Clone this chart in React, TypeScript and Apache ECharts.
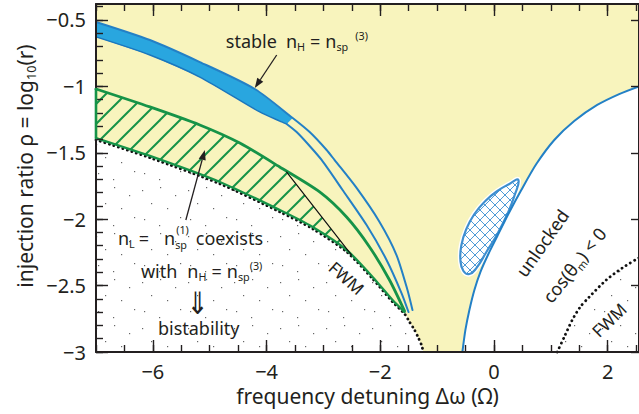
import React, { useEffect, useRef } from 'react';
import * as echarts from 'echarts';

const FONT = '"Noto Sans", "DejaVu Sans", sans-serif';
const INK = '#231f20';
const YELLOW = '#f8f4bd';
const GREEN = '#169348';
const BLUE_FILL = '#29a6df';
const BLUE_EDGE = '#1b76bd';
const BLUE_LINE = '#2380c6';

const X_MIN = -7;
const X_MAX = 2.55;
const Y_MIN = -3;
const Y_MAX = -0.38;

// ---- tick values ----
const xMajorTicks = [-6, -4, -2, 0, 2];
const xMinorTicks = [-7, -6.5, -6, -5.5, -5, -4.5, -4, -3.5, -3, -2.5, -2, -1.5, -1, -0.5, 0, 0.5, 1, 1.5, 2, 2.5];
const yMajorTicks = [-3, -2.5, -2, -1.5, -1, -0.5];
const yMinorTicks = [-3, -2.9, -2.8, -2.7, -2.6, -2.5, -2.4, -2.3, -2.2, -2.1, -2, -1.9, -1.8, -1.7, -1.6, -1.5, -1.4, -1.3, -1.2, -1.1, -1, -0.9, -0.8, -0.7, -0.6, -0.5, -0.4];

// ---- boundary curves (Δω, ρ) ----
const bandUpper = [[-7, -0.515], [-6.052, -0.651], [-5.174, -0.817], [-4.208, -1.02], [-3.541, -1.238], [-3.242, -1.344], [-2.944, -1.479], [-2.803, -1.555], [-2.417, -1.765], [-2.013, -2.021], [-1.715, -2.27], [-1.522, -2.533], [-1.434, -2.684]];
const bandLower = [[-7, -0.628], [-6.052, -0.764], [-5.174, -0.93], [-4.12, -1.193], [-3.769, -1.261], [-3.646, -1.283]];
const lowerBranch = [[-3.646, -1.283], [-3.471, -1.344], [-3.242, -1.449], [-3.032, -1.554], [-2.663, -1.78], [-2.241, -2.044], [-1.89, -2.307], [-1.627, -2.556], [-1.504, -2.699]];
const greenUpper = [[-7, -1.02], [-6.052, -1.155], [-5.174, -1.291], [-4.471, -1.427], [-3.769, -1.607], [-3.067, -1.795], [-2.593, -1.984], [-2.189, -2.209], [-1.838, -2.458], [-1.574, -2.691]];
const greenLower = [[-7, -1.389], [-6.052, -1.524], [-4.823, -1.72], [-3.769, -1.931], [-3.19, -2.059], [-2.593, -2.232], [-2.136, -2.435], [-1.785, -2.609], [-1.574, -2.699]];
const fwmCusp = [[-1.574, -2.699], [-1.486, -2.774], [-1.398, -2.834], [-1.328, -2.895], [-1.276, -2.947], [-1.241, -3.0]];
const fwmLine = [[-3.646, -1.645], [-2.505, -2.27]];
const unlockedBoundary = [[-0.556, -3.0], [-0.503, -2.834], [-0.433, -2.684], [-0.345, -2.533], [-0.24, -2.398], [-0.099, -2.262], [0.059, -2.127], [0.252, -1.961], [0.48, -1.78], [0.744, -1.585], [1.06, -1.404], [1.411, -1.261], [1.815, -1.14], [2.201, -1.058], [2.55, -1.0]];
const fwmRight = [[1.112, -3.0], [1.235, -2.887], [1.376, -2.759], [1.516, -2.661], [1.674, -2.586], [1.973, -2.458], [2.254, -2.368], [2.55, -2.29]];
const island = [[0.428, -1.705], [0.27, -1.735], [0.059, -1.788], [-0.152, -1.863], [-0.345, -1.961], [-0.486, -2.074], [-0.573, -2.195], [-0.591, -2.307], [-0.538, -2.39], [-0.433, -2.413], [-0.31, -2.368], [-0.134, -2.247], [0.059, -2.112], [0.235, -1.961], [0.357, -1.826]];
const stableArrow = [[-3.822, -0.764], [-4.208, -1.013]];
const coexistArrow = [[-5.42, -2.006], [-5.086, -1.479]];

// ---- text helpers ----
type Seg = { t: string; k?: 'sub' | 'sup'; stack?: boolean; gap?: number; dy?: number };
let mctx: CanvasRenderingContext2D | null = null;
function textWidth(t: string, size: number, family = FONT) {
  if (!mctx) mctx = document.createElement('canvas').getContext('2d');
  mctx!.font = `${size}px ${family}`;
  return mctx!.measureText(t).width;
}
function textRun(segs: Seg[], size: number, align: 'left' | 'center', color = INK) {
  const out: any[] = [];
  let x = 0;
  let lastStart = 0;
  for (const s of segs) {
    const fs = s.k ? size * 0.6 : size;
    const w = textWidth(s.t, fs);
    const sx = s.stack ? lastStart + 1 : x + (s.gap || 0);
    const dy = s.dy != null ? s.dy : s.k === 'sub' ? size * 0.32 : s.k === 'sup' ? -size * 0.32 : 0;
    out.push({
      type: 'text', x: sx, y: dy,
      style: { text: s.t, fontSize: fs, fontFamily: FONT, fill: color, textAlign: 'left', textVerticalAlign: 'middle', align: 'left', verticalAlign: 'middle' },
    });
    if (s.stack) x = Math.max(x, sx + w);
    else { lastStart = sx; x = sx + w; }
  }
  if (align === 'center') out.forEach((o) => (o.x -= x / 2));
  return out;
}

function makeTile(size: number, draw: (c: CanvasRenderingContext2D) => void) {
  const cv = document.createElement('canvas');
  cv.width = size; cv.height = size;
  const c = cv.getContext('2d')!;
  draw(c);
  return { image: cv.toDataURL(), repeat: 'repeat', imageWidth: size, imageHeight: size };
}

function buildOption() {
  const stipple = makeTile(46, (c) => {
    c.fillStyle = '#ffffff'; c.fillRect(0, 0, 46, 46);
    c.fillStyle = '#666666';
    [[4, 6], [22, 3], [37, 11], [13, 19], [29, 24], [42, 33], [6, 35], [21, 41]].forEach(([x, y]) => c.fillRect(x, y, 1.2, 1.2));
  });
  const hatch = makeTile(20, (c) => {
    c.strokeStyle = GREEN; c.lineWidth = 2;
    [-20, 0, 20].forEach((k) => { c.beginPath(); c.moveTo(k - 2, 22); c.lineTo(k + 22, -2); c.stroke(); });
  });
  const cross = makeTile(10, (c) => {
    c.fillStyle = '#ffffff'; c.fillRect(0, 0, 10, 10);
    c.strokeStyle = '#4f9bd6'; c.lineWidth = 1;
    [-10, 0, 10].forEach((k) => {
      c.beginPath(); c.moveTo(k - 2, 12); c.lineTo(k + 12, -2); c.stroke();
      c.beginPath(); c.moveTo(k - 2, -2); c.lineTo(k + 12, 12); c.stroke();
    });
  });

  const P = (api: any, arr: number[][]) => arr.map((p) => api.coord(p));
  const line = (api: any, arr: number[][], stroke: string, lineWidth: number, extra: any = {}) => ({
    type: 'polyline', shape: { points: P(api, arr), smooth: 0.25 },
    style: { stroke, lineWidth, fill: 'none', lineCap: 'round', lineJoin: 'round', ...extra },
  });
  const arrow = (api: any, from: number[], to: number[]) => {
    const a = api.coord(from); const b = api.coord(to);
    const dx = b[0] - a[0]; const dy = b[1] - a[1]; const L = Math.hypot(dx, dy);
    const ux = dx / L; const uy = dy / L; const nx = -uy; const ny = ux;
    const hl = 10; const hw = 3.6;
    const bx = b[0] - ux * hl; const by = b[1] - uy * hl;
    return [
      { type: 'line', shape: { x1: a[0], y1: a[1], x2: bx, y2: by }, style: { stroke: INK, lineWidth: 1.3 } },
      { type: 'polygon', shape: { points: [[b[0], b[1]], [bx + nx * hw, by + ny * hw], [bx - nx * hw, by - ny * hw]] }, style: { fill: INK } },
    ];
  };
  const layer = (name: string, z: number, build: (api: any) => any[]) => ({
    type: 'custom', name, coordinateSystem: 'cartesian2d', xAxisIndex: 0, yAxisIndex: 0,
    data: [[X_MIN, Y_MIN]], silent: true, clip: false, z,
    renderItem: (_p: any, api: any) => ({ type: 'group', children: build(api) }),
  });
  const at = (api: any, p: number[], rotation: number, children: any[]) => {
    const c = api.coord(p);
    return { type: 'group', x: c[0], y: c[1], rotation, children };
  };

  const hatchRegion = [...greenUpper.slice(0, 5), ...fwmLine, ...greenLower.slice(0, 6).reverse()];
  const leftStipple = [...greenLower, ...fwmCusp.slice(1), [X_MIN, Y_MIN]];
  const bandPoly = [...bandUpper.slice(0, 5), ...bandLower.slice().reverse()];

  const lineStyle = { color: INK, width: 1.4 };
  const fmt = (v: number) => (v < 0 ? '\u2212' + String(-v) : String(v));
  const labelStyle = { fontSize: 20, fontFamily: FONT, color: INK };
  const xBase = { type: 'value', min: X_MIN, max: X_MAX, splitLine: { show: false }, z: 20 };
  const yBase = { type: 'value', min: Y_MIN, max: Y_MAX, splitLine: { show: false }, z: 20 };
  const frameLine = { show: true, onZero: false, lineStyle: { color: INK, width: 2 } };
  const noLine = { show: false, onZero: false };

  return {
    animation: false,
    grid: { left: 96, right: -1, top: 4, bottom: 62, show: true, backgroundColor: YELLOW, borderWidth: 0 },
    xAxis: [
      { ...xBase, position: 'bottom', axisLine: frameLine,
        axisTick: { show: true, inside: true, length: 12, customValues: xMajorTicks, lineStyle },
        axisLabel: { show: true, customValues: xMajorTicks, formatter: fmt, margin: 9, ...labelStyle },
        name: 'frequency detuning \u0394\u03c9 (\u03a9)', nameLocation: 'middle', nameGap: 30,
        nameTextStyle: { fontSize: 21, fontFamily: FONT, color: INK } },
      { ...xBase, position: 'bottom', axisLine: noLine, axisTick: { show: true, inside: true, length: 7, customValues: xMinorTicks, lineStyle }, axisLabel: { show: false } },
      { ...xBase, position: 'top', axisLine: frameLine, axisTick: { show: true, inside: true, length: 12, customValues: xMajorTicks, lineStyle }, axisLabel: { show: false } },
      { ...xBase, position: 'top', axisLine: noLine, axisTick: { show: true, inside: true, length: 7, customValues: xMinorTicks, lineStyle }, axisLabel: { show: false } },
    ],
    yAxis: [
      { ...yBase, position: 'left', axisLine: frameLine,
        axisTick: { show: true, inside: true, length: 12, customValues: yMajorTicks, lineStyle },
        axisLabel: { show: true, customValues: yMajorTicks, formatter: fmt, margin: 10, ...labelStyle } },
      { ...yBase, position: 'left', axisLine: noLine, axisTick: { show: true, inside: true, length: 7, customValues: yMinorTicks, lineStyle }, axisLabel: { show: false } },
      { ...yBase, position: 'right', axisLine: frameLine, axisTick: { show: true, inside: true, length: 8, customValues: yMajorTicks, lineStyle }, axisLabel: { show: false } },
    ],
    graphic: {
      elements: [
        { type: 'group', x: 25, y: 166, rotation: Math.PI / 2,
          children: textRun([{ t: 'injection ratio \u03c1 = log' }, { t: '10', k: 'sub' }, { t: '(r)' }], 21, 'center') },
      ],
    },
    series: [
      layer('regions', 2, (api) => [
        { type: 'polygon', shape: { points: P(api, leftStipple) }, style: { fill: stipple } },
        { type: 'polygon', shape: { points: P(api, [...unlockedBoundary, [X_MAX, Y_MIN]]) }, style: { fill: '#ffffff' } },
        { type: 'polygon', shape: { points: P(api, [...fwmRight, [X_MAX, Y_MIN]]) }, style: { fill: stipple } },
        { type: 'polygon', shape: { points: P(api, hatchRegion) }, style: { fill: hatch } },
        { type: 'polygon', shape: { points: P(api, island), smooth: 0.5 }, style: { fill: '#ffffff', stroke: '#ffffff', lineWidth: 5 } },
        { type: 'polygon', shape: { points: P(api, island), smooth: 0.5 }, style: { fill: cross, stroke: '#3e8fd0', lineWidth: 2.2 } },
        { type: 'polygon', shape: { points: P(api, bandPoly) }, style: { fill: BLUE_FILL } },
      ]),
      layer('curves', 3, (api) => {
        const shifted = P(api, [...greenLower, ...fwmCusp.slice(1)]).map((p: number[], i: number) => [p[0], p[1] + (i < greenLower.length ? 1.8 : 0)]);
        return [
          { type: 'polyline', shape: { points: shifted, smooth: 0.25 }, style: { stroke: '#111', lineWidth: 2.8, fill: 'none', lineCap: 'round', lineDash: [0.1, 4.6] } },
          line(api, greenLower, GREEN, 2.4),
          line(api, greenUpper, GREEN, 2.8),
          line(api, fwmLine, '#111', 1.2),
          line(api, bandLower, BLUE_EDGE, 1.4),
          line(api, bandUpper, BLUE_LINE, 2),
          line(api, lowerBranch, BLUE_LINE, 2),
          line(api, unlockedBoundary, BLUE_LINE, 2),
          line(api, fwmRight, '#111', 2.8, { lineDash: [0.1, 4.8] }),
        ];
      }),
      layer('annotations', 4, (api) => [
        ...arrow(api, stableArrow[0], stableArrow[1]),
        ...arrow(api, coexistArrow[0], coexistArrow[1]),
        at(api, [-4.717, -0.659], 0, textRun([{ t: 'stable' }, { t: 'n', gap: 9 }, { t: 'H', k: 'sub' }, { t: '=', gap: 5 }, { t: 'n', gap: 5 }, { t: 'sp', k: 'sub' }, { t: '(3)', k: 'sup', gap: 7 }], 18, 'left')),
        at(api, [-6.614, -2.142], 0, textRun([{ t: 'n' }, { t: 'L', k: 'sub' }, { t: '=', gap: 4 }, { t: 'n', gap: 15 }, { t: 'sp', k: 'sub', dy: 6.5 }, { t: '(1)', k: 'sup', stack: true, dy: -8.8 }, { t: 'coexists', gap: 7 }], 18, 'left')),
        at(api, [-6.21, -2.39], 0, textRun([{ t: 'with' }, { t: 'n', gap: 10 }, { t: 'H', k: 'sub' }, { t: '=', gap: 5 }, { t: 'n', gap: 5 }, { t: 'sp', k: 'sub' }, { t: '(3)', k: 'sup' }], 18, 'left')),
        at(api, [-5.209, -2.631], 0, [{ type: 'text', x: 0, y: 0, scaleX: 0.85, style: { text: '\u21d3', fontSize: 31, fontFamily: '"DejaVu Sans"', fill: INK, textAlign: 'center', textVerticalAlign: 'middle', align: 'center', verticalAlign: 'middle' } }]),
        at(api, [-5.911, -2.819], 0, textRun([{ t: 'bistability' }], 18, 'left')),
        at(api, [-2.593, -2.443], -0.72, textRun([{ t: 'FWM' }], 17, 'center')),
        at(api, [0.849, -2.179], 0.96, textRun([{ t: 'unlocked' }], 18, 'center')),
        at(api, [1.411, -2.345], 0.9, textRun([{ t: 'cos(\u03b8' }, { t: 'm', k: 'sub' }, { t: ') < 0' }], 18, 'center')),
        at(api, [2.025, -2.759], 0.77, textRun([{ t: 'FWM' }], 17, 'center')),
      ]),
      layer('edge', 25, (api) => [line(api, [greenUpper[0], greenLower[0]], GREEN, 2.6)]),
    ],
  };
}

export default function App() {
  const ref = useRef<HTMLDivElement>(null);
  useEffect(() => {
    document.body.style.margin = '0';
    const chart = echarts.init(ref.current!, null, { renderer: 'svg' });
    chart.setOption(buildOption() as any);
    return () => chart.dispose();
  }, []);
  return <div ref={ref} style={{ position: 'absolute', left: 0, top: 0, width: 639, height: 414 }} />;
}
